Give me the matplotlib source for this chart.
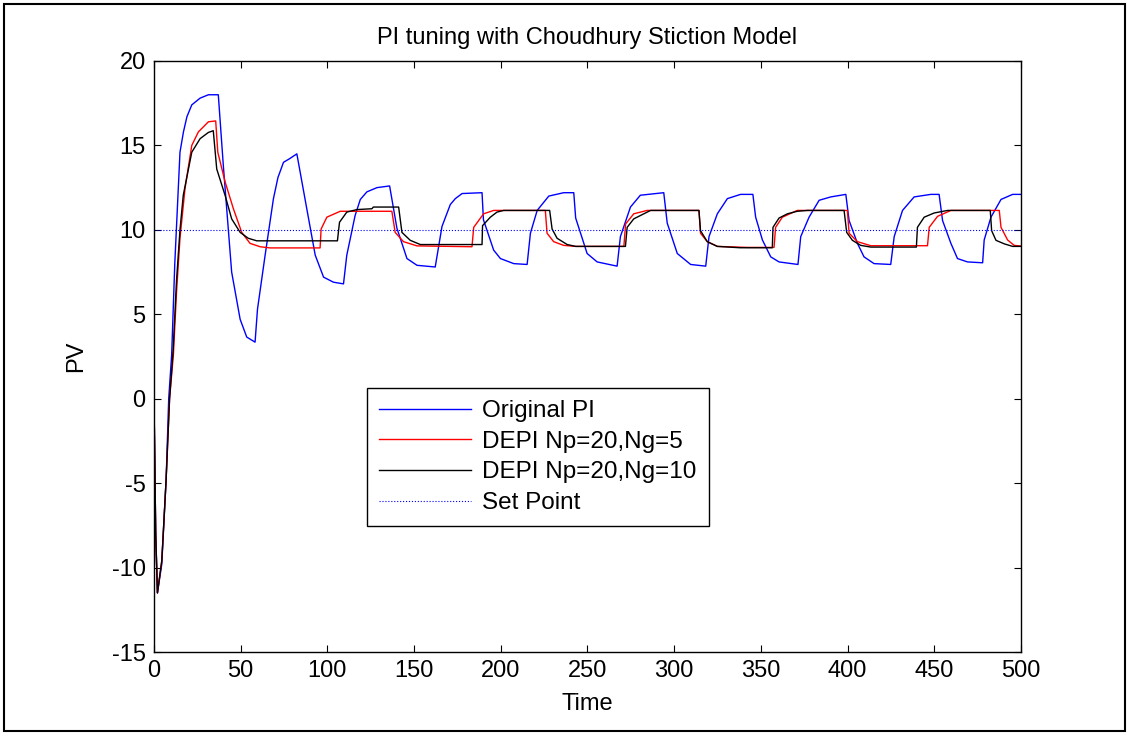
import matplotlib
matplotlib.use("Agg")
import matplotlib.pyplot as plt
from matplotlib.patches import Rectangle

plt.rcParams['font.family'] = ['Liberation Sans', 'DejaVu Sans']
plt.rcParams['axes.unicode_minus'] = False

# Original PI response
t_pi = [0, 1, 2, 4.5, 7, 8.5, 10.2, 12, 15, 17, 19, 21.8, 26.6, 31.4, 37.1, 40, 44.8, 49.7,
        53.5, 58.3, 59.7, 64.1, 68.9, 71.5, 74.7, 78, 82.4, 89.1, 93, 97.8, 103.5, 109.3, 111.2,
        116, 119, 122.8, 128.6, 135.9, 140.1, 145.9, 151.7, 162.2, 166.1, 170.9, 173.8, 177.7,
        189.2, 190, 195.9, 199.8, 207.5, 215.2, 217.1, 221, 227.7, 236.3, 242.1, 243.2,
        249.8, 255.6, 267.1, 269, 274.8, 280.5, 294, 296, 301.8, 309.5, 318.2, 320.1,
        324.9, 330.7, 338.3, 345.4, 347, 350.9, 355.7, 360.5, 371.4, 373, 377.8, 383.6,
        390.3, 399, 400.9, 405.7, 409.5, 415.3, 424.9, 426.9, 431.7, 438.4, 448, 452.8,
        454.8, 459.6, 463.4, 469.2, 477.9, 478.8, 482.7, 488.5, 495.2, 500]
pv_pi = [0, -8, -11.5, -9.8, -4.8, 0, 2.6, 8, 14.6, 15.8, 16.7, 17.4, 17.8, 18.0, 18.0, 13.8, 7.5, 4.7,
         3.65, 3.35, 5.3, 8.5, 11.85, 13.1, 14.0, 14.2, 14.5, 10.7, 8.5, 7.2, 6.9, 6.8, 8.5,
         10.85, 11.8, 12.25, 12.5, 12.6, 10.1, 8.3, 7.9, 7.8, 10.2, 11.5, 11.85, 12.15,
         12.2, 10.6, 8.8, 8.3, 8.0, 7.95, 9.8, 11.15, 12.0, 12.2, 12.2, 10.7,
         8.6, 8.1, 7.85, 9.6, 11.35, 12.05, 12.2, 10.4, 8.6, 7.95, 7.85, 9.6,
         10.95, 11.85, 12.1, 12.1, 10.75, 9.4, 8.4, 8.1, 7.95, 9.6, 10.75, 11.75,
         11.95, 12.1, 10.55, 9.2, 8.4, 8.0, 7.95, 9.6, 11.15, 11.95, 12.1, 12.1,
         10.55, 9.2, 8.3, 8.1, 8.05, 9.4, 10.75, 11.8, 12.1, 12.1]

# DEPI Np=20, Ng=5
t_ng5 = [0, 1, 2, 4.5, 7, 9, 11.2, 13, 15, 17.9, 21.8, 25.6, 31.4, 35.6, 36.8, 41, 45.8, 50.6,
         55.4, 61.2, 66.9, 95.8, 96.4, 99.7, 107.4, 137.2, 139.1, 143.9, 151.7, 183.4, 184.4,
         190.1, 195.9, 225.7, 226.7, 230.5, 236.3, 243.2, 271, 272, 276.7, 284.4, 314.3,
         315.2, 319.1, 324.9, 342, 357.6, 358.5, 362.4, 371, 399.9, 400.9, 405.7, 413.4,
         446.1, 447.1, 451.9, 459.6, 487.5, 488.5, 492.3, 496.1, 500]
pv_ng5 = [0, -8, -11.5, -9.6, -4.8, 0, 2.6, 6.3, 9.5, 12.45, 15.0, 15.8, 16.4, 16.45, 14.6, 12.85, 11.25, 9.85,
          9.2, 9.0, 8.93, 8.93, 10.05, 10.75, 11.1, 11.1, 9.85, 9.3, 9.05, 9.0, 10.15,
          10.95, 11.15, 11.15, 9.8, 9.3, 9.08, 9.02, 9.02, 10.35, 10.95, 11.15, 11.15,
          9.8, 9.3, 9.02, 8.96, 8.96, 10.15, 10.75, 11.15, 11.15, 9.8, 9.3, 9.06,
          9.06, 10.15, 10.8, 11.15, 11.15, 10.15, 9.4, 9.08, 9.04]

# DEPI Np=20, Ng=10
t_ng10 = [0, 1, 2, 4.5, 7, 9, 11, 13, 15, 16.9, 21.8, 26.6, 31.4, 34.2, 36.2, 41, 44.8, 49.7,
          54.4, 59.3, 105.8, 107, 111.2, 117, 125.7, 126.5, 141.1, 143, 147.8, 153.6, 189.2,
          189.5, 194, 197.8, 201.7, 228.2, 229.6, 232.5, 238.3, 243.2, 271.9, 272.9, 276.7,
          282.5, 286.4, 314.3, 315.2, 319.1, 324.9, 338, 356.6, 357, 360.5, 365.3, 371,
          376.8, 398, 399.5, 402.8, 407.6, 413.4, 439.7, 440.3, 444.2, 450, 457.7, 482.3,
          483.1, 485.6, 490.4, 495.2, 500]
pv_ng10 = [0, -8, -11.5, -9.6, -4.8, 0, 2.8, 7, 10, 12.05, 14.6, 15.4, 15.77, 15.87, 13.6, 12.05, 10.65, 9.85,
           9.5, 9.35, 9.35, 10.45, 11.05, 11.2, 11.25, 11.35, 11.35, 9.85, 9.38, 9.13, 9.13,
           10.25, 10.75, 11.05, 11.15, 11.15, 10.05, 9.5, 9.13, 9.02, 9.02, 10.15, 10.65,
           10.95, 11.15, 11.15, 9.95, 9.3, 9.02, 8.94, 8.94, 10.15, 10.7, 10.95, 11.1,
           11.15, 11.15, 9.85, 9.38, 9.08, 8.98, 8.98, 10.15, 10.75, 11.0, 11.15, 11.15,
           9.95, 9.38, 9.17, 9.02, 9.02]

t_sp = [0, 500]
sp = [10, 10]

labels = ['Original PI', 'DEPI Np=20,Ng=5', 'DEPI Np=20,Ng=10', 'Set Point']

fig = plt.figure(figsize=(11.33, 7.33), dpi=100)
ax = fig.add_axes([0.1359, 0.1105, 0.7652, 0.8063])

ax.plot(t_pi, pv_pi, color='blue', lw=1.0, label=labels[0])
ax.plot(t_ng5, pv_ng5, color='red', lw=1.0, label=labels[1])
ax.plot(t_ng10, pv_ng10, color='black', lw=1.0, label=labels[2])
ax.plot(t_sp, sp, color='blue', ls=':', lw=0.8, label=labels[3])

ax.set_xlim(0, 500)
ax.set_ylim(-15, 20)
ax.set_xticks(range(0, 501, 50))
ax.set_yticks(range(-15, 21, 5))
ax.tick_params(direction='in', top=True, right=True, length=5, width=0.8,
               labelsize=17, pad=6)
for s in ax.spines.values():
    s.set_linewidth(1.0)

ax.set_title('PI tuning with Choudhury Stiction Model', fontsize=17, pad=12)
ax.set_xlabel('Time', fontsize=17, labelpad=8)
ax.set_ylabel('PV', fontsize=17, labelpad=18)

leg = ax.legend(loc='upper left', bbox_to_anchor=(0.2453, 0.4462), borderaxespad=0,
                fontsize=17.5, handlelength=3.8, handletextpad=0.45, labelspacing=0.35,
                borderpad=0.5, fancybox=False, framealpha=1, edgecolor='black')
leg.get_frame().set_linewidth(1.0)

# outer frame around the whole figure
fig.patches.append(Rectangle((4 / 1133, 2 / 733), 1121 / 1133, 727 / 733,
                             transform=fig.transFigure, fill=False,
                             edgecolor='black', lw=1.5))

fig.savefig('out.png', dpi=100)
